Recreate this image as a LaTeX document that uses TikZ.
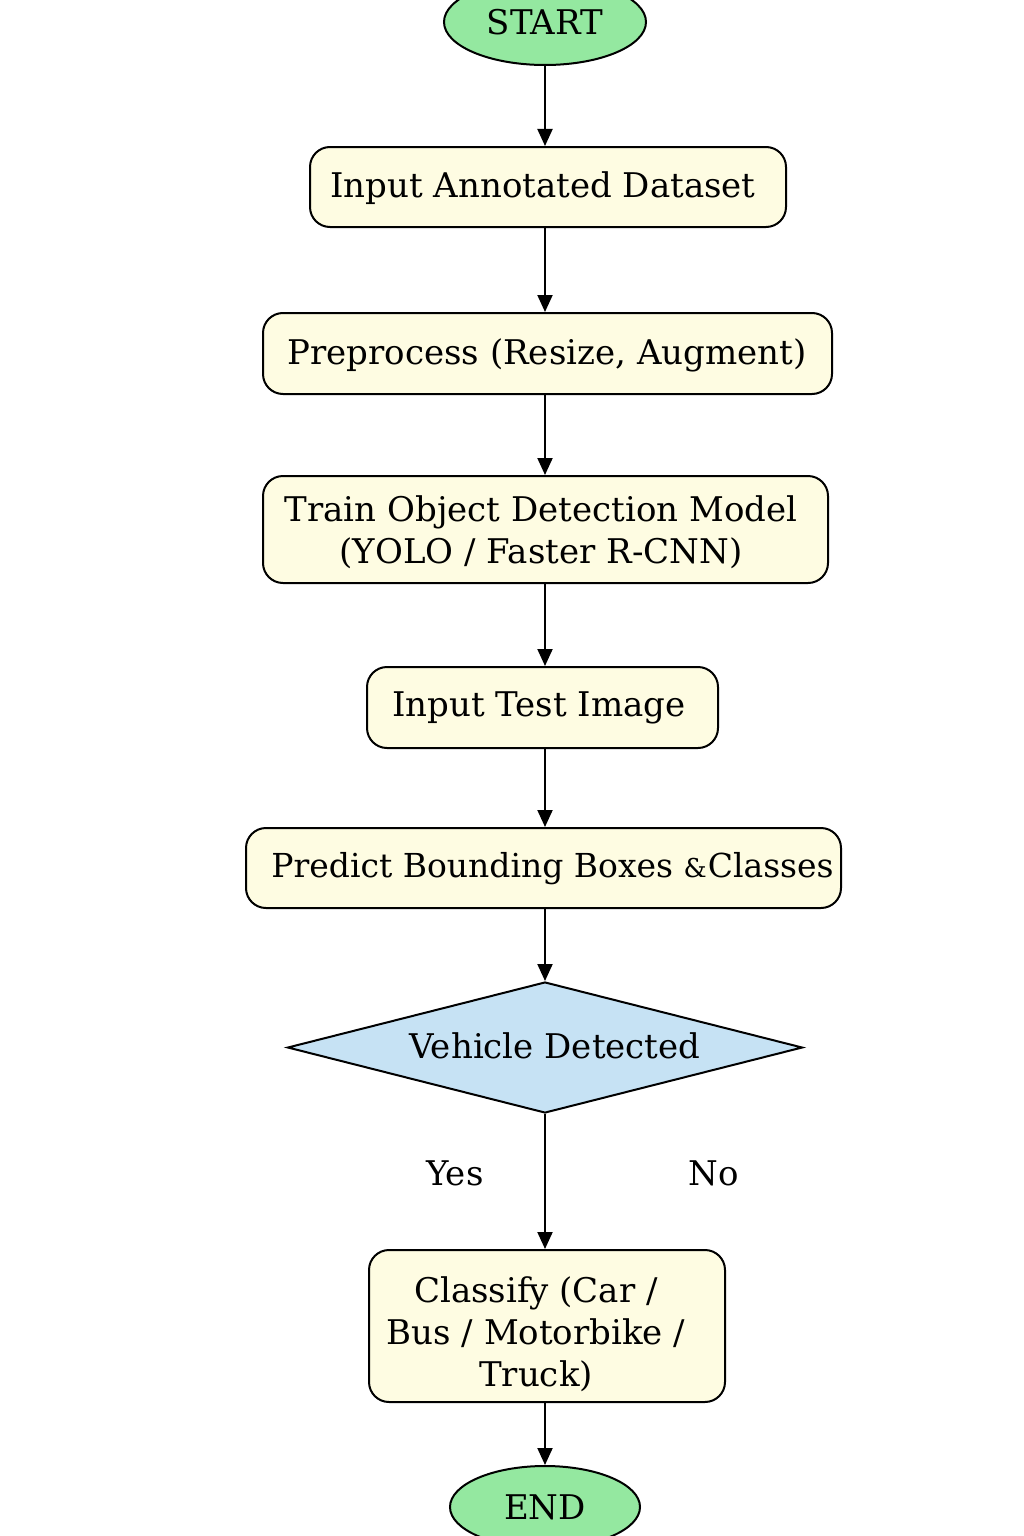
\documentclass[tikz,border=0pt]{standalone}
\usepackage{fontspec}
\setmainfont{DejaVu Serif}
\usetikzlibrary{shapes.geometric,arrows.meta}
\definecolor{termgreen}{HTML}{94E8A0}
\definecolor{procyellow}{HTML}{FEFCE2}
\definecolor{decblue}{HTML}{C6E2F4}
\tikzset{
  fnt/.style={font=\fontsize{34}{42}\selectfont},
  lbl/.style={fnt, inner sep=0pt, align=center},
  term/.style={ellipse, draw=black, line width=2pt, fill=termgreen, inner sep=0pt, fnt},
  proc/.style={rectangle, rounded corners=20pt, draw=black, line width=2pt, fill=procyellow, inner sep=0pt},
  dec/.style={diamond, draw=black, line width=2pt, fill=decblue, inner sep=0pt, aspect=3.93, minimum width=515pt, minimum height=131pt},
  arr/.style={draw=black, line width=2pt, -{Triangle[length=17pt,width=15pt]}}
}
\begin{document}
\begin{tikzpicture}[x=1pt,y=-1pt]
\useasboundingbox (0,0) rectangle (1024,1536);
\node[term, minimum width=202pt, minimum height=86pt] (start) at (545,22) {START};
\node[proc, minimum width=476pt, minimum height=80pt] (b1) at (548,187) {};
\node[lbl] (b1t) at (543,188) {Input Annotated Dataset};
\node[proc, minimum width=569pt, minimum height=81pt] (b2) at (547.5,353.5) {};
\node[lbl] (b2t) at (547,355) {Preprocess (Resize, Augment)};
\node[proc, minimum width=565pt, minimum height=107pt] (b3) at (545.5,529.5) {};
\node[lbl] (b3t) at (541,532) {Train Object Detection Model\\(YOLO / Faster R-CNN)};
\node[proc, minimum width=351pt, minimum height=81pt] (b4) at (542.5,707.5) {};
\node[lbl] (b4t) at (539,708) {Input Test Image};
\node[proc, minimum width=595pt, minimum height=80pt] (b5) at (543.5,868) {};
\node[lbl, font=\fontsize{33}{42}\selectfont] (b5t) at (552.5,869) {Predict Bounding Boxes {\fontsize{26}{30}\selectfont\&}\kern1pt Classes};
\node[dec] (d1) at (545,1047.5) {};
\node[lbl] (d1t) at (555,1046) {Vehicle Detected};
\node[lbl] (yes) at (455,1173) {Yes};
\node[lbl] (no) at (714,1173) {No};
\node[proc, minimum width=356pt, minimum height=152pt] (b6) at (547,1326) {};
\node[lbl] (b6t) at (536,1334) {Classify (Car /\\Bus / Motorbike /\\Truck)};
\node[term, minimum width=190pt, minimum height=82pt] (end) at (545,1507) {END};
\coordinate (x0) at (545,0);
\draw[arr] (start) -- (x0 |- b1.north);
\draw[arr] (x0 |- b1.south) -- (x0 |- b2.north);
\draw[arr] (x0 |- b2.south) -- (x0 |- b3.north);
\draw[arr] (x0 |- b3.south) -- (x0 |- b4.north);
\draw[arr] (x0 |- b4.south) -- (x0 |- b5.north);
\draw[arr] (x0 |- b5.south) -- (d1.north);
\draw[arr] (d1.south) -- (x0 |- b6.north);
\draw[arr] (x0 |- b6.south) -- (end.north);
\end{tikzpicture}
\end{document}
